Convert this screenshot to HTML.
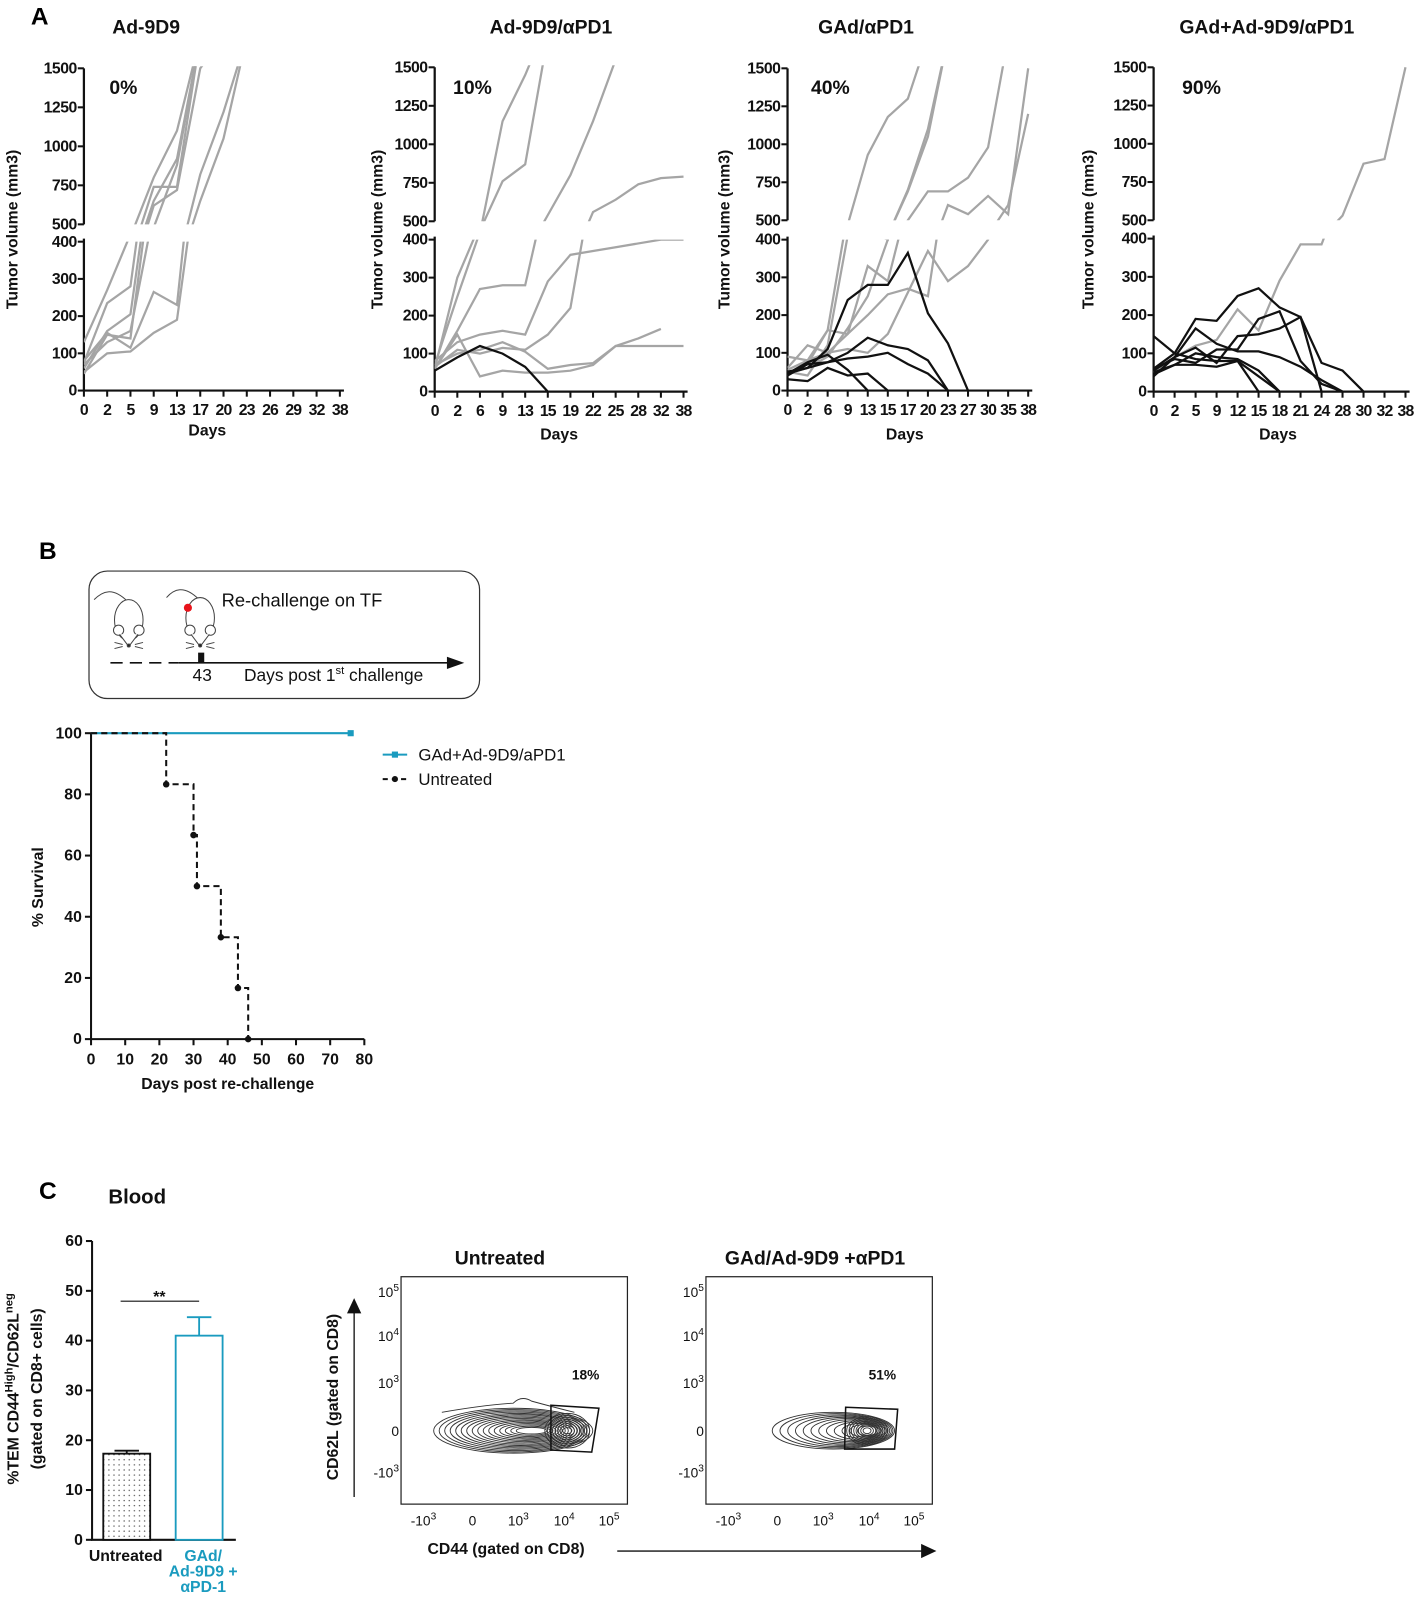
<!DOCTYPE html>
<html><head><meta charset="utf-8">
<style>
html,body{margin:0;padding:0;background:#fff;}
svg{display:block;font-family:"Liberation Sans",sans-serif;}
.tk{font-size:15.5px;font-weight:bold;fill:#111;}
.ttl{font-size:19px;font-weight:bold;fill:#111;}
</style></head>
<body>
<svg id="fig" width="1417" height="1601" viewBox="0 0 1389 1570" xmlns="http://www.w3.org/2000/svg">
<defs>
<pattern id="dots" width="5" height="5" patternUnits="userSpaceOnUse"><rect width="5" height="5" fill="#fff"/><circle cx="1.5" cy="1.5" r="0.7" fill="#555"/></pattern>
</defs>
<text x="30" y="24" font-size="24" font-weight="bold">A</text>
<text x="38" y="548" font-size="24" font-weight="bold">B</text>
<text x="38" y="1176" font-size="24" font-weight="bold">C</text>
<g id="panelA"></g>

<g>
<rect x="87" y="560" width="383" height="125" rx="18" fill="none" stroke="#333" stroke-width="1.2"/>
<g fill="#fff" stroke="#444" stroke-width="1">
<path d="M125 590 C110 575 100 580 92 588" fill="none"/>
<ellipse cx="126" cy="608" rx="14" ry="20"/>
<circle cx="116" cy="618" r="5"/><circle cx="136" cy="618" r="5"/>
<path d="M117 622 L126 634 L135 622" /><circle cx="126" cy="633" r="1.5" fill="#222"/>
<path d="M112 630 L120 632 M112 636 L120 634 M140 630 L132 632 M140 636 L132 634" fill="none"/>
</g>
<g fill="#fff" stroke="#444" stroke-width="1">
<path d="M195 588 C180 573 170 578 163 586" fill="none"/>
<ellipse cx="196" cy="606" rx="14" ry="20"/>
<circle cx="186" cy="618" r="5"/><circle cx="206" cy="618" r="5"/>
<path d="M187 622 L196 634 L205 622"/><circle cx="196" cy="633" r="1.5" fill="#222"/>
<path d="M182 630 L190 632 M182 636 L190 634 M210 630 L202 632 M210 636 L202 634" fill="none"/>
<circle cx="184" cy="596" r="4" fill="#e8141b" stroke="none"/>
</g>
<text x="217" y="595" font-size="18" fill="#111">Re-challenge on TF</text>
<line x1="108" y1="650" x2="175" y2="650" stroke="#111" stroke-width="1.6" stroke-dasharray="12,7"/>
<line x1="175" y1="650" x2="440" y2="650" stroke="#111" stroke-width="1.6"/>
<path d="M438 644 L455 650 L438 656 Z" fill="#111"/>
<rect x="194" y="640" width="6" height="10" fill="#111"/>
<text x="198" y="668" font-size="17" text-anchor="middle" fill="#111">43</text>
<text x="239" y="668" font-size="17" fill="#111">Days post 1<tspan font-size="11" dy="-7">st</tspan><tspan dy="7"> challenge</tspan></text>
</g>
<g id="panelB"></g>
<g id="panelC">
<text x="106" y="1180" font-size="20" font-weight="bold" fill="#111">Blood</text>
</g>
<g id="flow"></g>
</svg>
<script>
const NS='http://www.w3.org/2000/svg';
function mk(tag,attrs,parent){const e=document.createElementNS(NS,tag);for(const k in attrs)e.setAttribute(k,attrs[k]);parent.appendChild(e);return e;}

const catsA1=[0,2,5,9,13,17,20,23,26,29,32,38];
const grayA1=[
[130,270,420,800,1100,1700],
[75,235,280,740,740,1700],
[60,160,205,650,920,1700],
[45,150,140,620,720,1500,1700],
[80,155,115,265,230,820,1220,1700],
[50,100,105,155,190,650,1050,1700],
[70,130,160,480,880,1700]];
const blackA1=[];
const catsA2=[0,2,6,9,13,15,19,22,25,28,32,38];
const grayA2=[
[70,250,420,1150,1450,1800],
[60,300,440,760,870,1700],
[60,160,270,280,280,540,800,1150,1550],
[80,130,150,160,150,290,360,370,380,390,400,400],
[65,110,100,115,110,150,220,560,640,740,780,790],
[60,150,40,55,50,50,55,70,120,120,120,120],
[70,100,110,130,105,60,70,75,120,140,165]];
const blackA2=[[55,90,120,100,65,0]];
const catsA3=[0,2,6,9,13,15,17,20,23,27,30,35,38];
const grayA3=[
[90,80,160,470,930,1180,1300,1700],
[50,40,120,410,420,400,700,1100,1700],
[60,120,100,150,330,290,500,690,690,780,980,1700],
[40,70,160,150,200,255,270,250,600,540,660,540,1500],
[55,80,100,110,100,150,260,370,290,330,400,600,1200],
[45,60,90,165,250,400,690,1050,1700]];
const blackA3=[
[45,60,110,240,280,280,365,205,125,0],
[40,70,75,85,90,100,70,45,0],
[50,60,75,100,140,120,110,80,0],
[30,25,60,40,45,0],
[45,75,95,55,0]];
const catsA4=[0,2,5,9,12,15,18,21,24,28,30,32,38];
const grayA4=[[50,90,120,135,215,160,290,385,385,530,870,900,1500]];
const blackA4=[
[145,100,85,80,80,40,0],
[60,100,190,185,250,270,220,195,0],
[45,70,70,65,80,0],
[55,90,165,125,105,105,90,65,30,0],
[40,90,115,75,145,150,165,195,75,55,0],
[60,85,75,110,110,190,210,80,20,0],
[50,70,100,90,85,55,0]];
const titlesA=['Ad-9D9','Ad-9D9/αPD1','GAd/αPD1','GAd+Ad-9D9/αPD1'];
const pctA=['0%','10%','40%','90%'];
const lowTicks=[0,100,200,300,400];
const highTicks=[500,750,1000,1250,1500];

const layoutsA=[
{x0:82,x1:333,y0:383,y400:237,y500:220,y1500:67,tx:143,px:107,yt:10,dx:203,dy:427},
{x0:426,x1:670,y0:384,y400:235,y500:217,y1500:66,tx:540,px:444,yt:368,dx:548,dy:431},
{x0:772,x1:1008,y0:383,y400:235,y500:216,y1500:67,tx:849,px:795,yt:708,dx:887,dy:431},
{x0:1131,x1:1378,y0:384,y400:234,y500:216,y1500:66,tx:1242,px:1159,yt:1065,dx:1253,dy:431}];
const dataA=[[catsA1,grayA1,blackA1],[catsA2,grayA2,blackA2],[catsA3,grayA3,blackA3],[catsA4,grayA4,blackA4]];

const pA=document.getElementById('panelA');
const defs=document.querySelector('defs');
layoutsA.forEach((L,ci)=>{
  const [cats,gray,black]=dataA[ci];
  const g=mk('g',{},pA);
  
  
  const step=(L.x1-L.x0)/(cats.length-1);
  const xs=i=>L.x0+i*step;
  const yLo=v=>L.y0-v/400*(L.y0-L.y400);
  const yHi=v=>L.y500-(v-500)/1000*(L.y500-L.y1500);
  const c1=mk('clipPath',{id:'lo'+ci},defs);
  mk('rect',{x:L.x0,y:L.y400,width:L.x1-L.x0+10,height:L.y0-L.y400+2},c1);
  const c2=mk('clipPath',{id:'hi'+ci},defs);
  mk('rect',{x:L.x0,y:L.y1500-2,width:L.x1-L.x0+10,height:L.y500-L.y1500+2},c2);
  const t=mk('text',{x:L.tx,y:33,'text-anchor':'middle',class:'ttl'},g);t.textContent=titlesA[ci];
  
  
  const p=mk('text',{x:L.px,y:92,class:'ttl','font-size':'18'},g);p.textContent=pctA[ci];
  
  
  const yt=mk('text',{x:0,y:0,class:'tk','font-size':'18.5','text-anchor':'middle',transform:`translate(${L.yt+7},225) rotate(-90)`},g);yt.textContent='Tumor volume (mm3)';
  
  
  const dt=mk('text',{x:L.dx,y:L.dy,class:'tk','font-size':'18','text-anchor':'middle'},g);dt.textContent='Days';
  
  
  const ax=mk('path',{d:`M${L.x0} ${L.y0}V${L.y400-3}M${L.x0} ${L.y500}V${L.y1500}M${L.x0} ${L.y0}H${L.x1+4}`,stroke:'#111','stroke-width':2.2,fill:'none'},g);
  
  
  lowTicks.forEach(v=>{
    mk('line',{x1:L.x0-6,x2:L.x0,y1:yLo(v),y2:yLo(v),stroke:'#111','stroke-width':2},g);
    const tl=mk('text',{x:L.x0-7,y:yLo(v)+5,'text-anchor':'end',class:'tk','letter-spacing':'-0.5'},g);tl.textContent=v;
    
    
  });
  highTicks.forEach(v=>{
    mk('line',{x1:L.x0-6,x2:L.x0,y1:yHi(v),y2:yHi(v),stroke:'#111','stroke-width':2},g);
    const tl=mk('text',{x:L.x0-7,y:yHi(v)+5,'text-anchor':'end',class:'tk','letter-spacing':'-0.5'},g);tl.textContent=v;
    
    
  });
  cats.forEach((c,i)=>{
    mk('line',{x1:xs(i),x2:xs(i),y1:L.y0,y2:L.y0+6,stroke:'#111','stroke-width':2},g);
    const tl=mk('text',{x:xs(i),y:L.y0+24,'text-anchor':'middle',class:'tk','font-size':'16','letter-spacing':'-0.8'},g);tl.textContent=c;
    
    
  });
  const drawSeries=(arr,color,nm)=>{arr.forEach(s=>{
    const lo=s.map((v,i)=>xs(i)+','+yLo(v)).join(' ');
    const hi=s.map((v,i)=>xs(i)+','+yHi(v)).join(' ');
    const a=mk('polyline',{points:lo,fill:'none',stroke:color,'stroke-width':2.2,'clip-path':`url(#lo${ci})`},g);
    
    
    const b=mk('polyline',{points:hi,fill:'none',stroke:color,'stroke-width':2.2,'clip-path':`url(#hi${ci})`},g);
    
    
  });};
  drawSeries(gray,'#a5a5a5','mouse-line-progressor');
  drawSeries(black,'#111','mouse-line-responder');
});

const survXTicks=[0,10,20,30,40,50,60,70,80];
const survYTicks=[0,20,40,60,80,100];
const untreatedDays=[22,30,31,38,43,46];
const untreatedSurv=[83.3,66.7,50,33.3,16.7,0];
const treatedEnd=76;
const pB=document.getElementById('panelB');
const sx=d=>89+d/80*(357-89);
const sy=v=>1019-v/100*(1019-719);
(function(){
  const ax=mk('path',{d:`M89 ${sy(100)}V1019H${sx(80)}`,stroke:'#111','stroke-width':2,fill:'none'},pB);
  
  
  survYTicks.forEach(v=>{mk('line',{x1:83,x2:89,y1:sy(v),y2:sy(v),stroke:'#111','stroke-width':2},pB);
    const t=mk('text',{x:80,y:sy(v)+5,'text-anchor':'end',class:'tk','font-size':'14.5'},pB);t.textContent=v;
    
    });
  survXTicks.forEach(v=>{mk('line',{x1:sx(v),x2:sx(v),y1:1019,y2:1025,stroke:'#111','stroke-width':2},pB);
    const t=mk('text',{x:sx(v),y:1044,'text-anchor':'middle',class:'tk','font-size':'14.5'},pB);t.textContent=v;
    
    });
  const xt=mk('text',{x:223,y:1068,'text-anchor':'middle',class:'tk'},pB);xt.textContent='Days post re-challenge';
  
  
  const yt=mk('text',{x:0,y:0,'text-anchor':'middle',class:'tk','font-size':'16.5',transform:'translate(42,870) rotate(-90)'},pB);yt.textContent='% Survival';
  
  
  const tl=mk('line',{x1:sx(0),x2:sx(treatedEnd),y1:sy(100),y2:sy(100),stroke:'#1a9bbf','stroke-width':2},pB);
  
  
  const tm=mk('rect',{x:sx(treatedEnd)-3,y:sy(100)-3,width:6,height:6,fill:'#1a9bbf'},pB);
  
  
  let d=`M${sx(0)} ${sy(100)}`;
  untreatedDays.forEach((t,i)=>{d+=` H${sx(t)} V${sy(untreatedSurv[i])}`;});
  const ul=mk('path',{d:d,fill:'none',stroke:'#111','stroke-width':2,'stroke-dasharray':'6,4'},pB);
  
  
  untreatedDays.forEach((t,i)=>{const c=mk('circle',{cx:sx(t),cy:sy(untreatedSurv[i]),r:3.2,fill:'#111'},pB);
    
    });
  const lg=mk('g',{},pB);
  
  
  mk('line',{x1:375,x2:399,y1:740,y2:740,stroke:'#1a9bbf','stroke-width':2},lg);
  mk('rect',{x:384,y:737,width:6,height:6,fill:'#1a9bbf'},lg);
  const l1=mk('text',{x:410,y:746,'font-size':'16.5',fill:'#111'},lg);l1.textContent='GAd+Ad-9D9/aPD1';
  
  
  mk('line',{x1:375,x2:399,y1:764,y2:764,stroke:'#111','stroke-width':2,'stroke-dasharray':'5,4'},lg);
  mk('circle',{cx:387,cy:764,r:3,fill:'#111'},lg);
  const l2=mk('text',{x:410,y:770,'font-size':'16.5',fill:'#111'},lg);l2.textContent='Untreated';
  
  
})();

const barCats=['Untreated','GAd'];
const barMeans=[17.3,41];
const barErr=[0.6,3.7];
const barYTicks=[0,10,20,30,40,50,60];
const pC=document.getElementById('panelC');
const by=v=>1510-v/60*(1510-1217);
(function(){
  const ax=mk('path',{d:`M90 1217V1510H231`,stroke:'#111','stroke-width':2,fill:'none'},pC);
  
  
  barYTicks.forEach(v=>{mk('line',{x1:84,x2:90,y1:by(v),y2:by(v),stroke:'#111','stroke-width':2},pC);
    const t=mk('text',{x:81,y:by(v)+5,'text-anchor':'end',class:'tk','font-size':'14.5'},pC);t.textContent=v;
    
    });
  const bx=[101,172];
  barMeans.forEach((m,i)=>{
    const col=i===0?'#111':'#1a9bbf';
    const r=mk('rect',{x:bx[i],y:by(m),width:46,height:1510-by(m),fill:i===0?'url(#dots)':'#fff',stroke:col,'stroke-width':1.8},pC);
    
    
    const e=mk('path',{d:`M${bx[i]+23} ${by(m)}V${by(m+barErr[i])}M${bx[i]+11} ${by(m+barErr[i])}H${bx[i]+35}`,stroke:col,'stroke-width':1.8,fill:'none'},pC);
    
    
  });
  const s=mk('line',{x1:118,x2:195,y1:1276,y2:1276,stroke:'#111','stroke-width':1.2},pC);
  
  
  const st=mk('text',{x:156,y:1277,'text-anchor':'middle',class:'tk','font-size':'24'},pC);st.textContent='**';
  
  
  const l1=mk('text',{x:123,y:1531,'text-anchor':'middle',class:'tk','font-size':'14'},pC);l1.textContent='Untreated';
  
  
  ['GAd/','Ad-9D9 +','αPD-1'].forEach((s,i)=>{const t=mk('text',{x:199,y:1531+i*15,'text-anchor':'middle',class:'tk','font-size':'14',style:'fill:#1a9bbf'},pC);t.textContent=s;
    
    });
  const yt=mk('text',{x:0,y:0,'text-anchor':'middle',class:'tk','font-size':'16',transform:'translate(18,1362) rotate(-90)'},pC);
  yt.innerHTML='%TEM CD44<tspan font-size="11" dy="-6">High</tspan><tspan dy="6">/CD62L</tspan><tspan font-size="11" dy="-6">neg</tspan>';
  
  
  const yt2=mk('text',{x:0,y:0,'text-anchor':'middle',class:'tk','font-size':'16',transform:'translate(41,1362) rotate(-90)'},pC);yt2.textContent='(gated on CD8+ cells)';
  
  
})();

const flowTitles=['Untreated','GAd/Ad-9D9 +αPD1'];
const flowPct=['18%','51%'];
const flowYLabels=['10^5','10^4','10^3','0','-10^3'];
const flowXLabels=['-10^3','0','10^3','10^4','10^5'];
const fl=document.getElementById('flow');
function sup(el,s){const p=s.split('^');el.textContent=p[0];if(p[1]){const t=mk('tspan',{'font-size':'10',dy:'-6'},el);t.textContent=p[1];}}
[393,692].forEach((bx,k)=>{
  const g=mk('g',{},fl);
  
  
  const t=mk('text',{x:bx+97+(k?10:0),y:1240,'text-anchor':'middle',class:'ttl','font-size':'20'},g);t.textContent=flowTitles[k];
  
  
  const fr=mk('rect',{x:bx,y:1252,width:222,height:223,fill:'none',stroke:'#222','stroke-width':1.2},g);
  
  
  const yp=[1267,1310,1356,1403,1444];
  flowYLabels.forEach((s,i)=>{const e=mk('text',{x:bx-2,y:yp[i]+5,'text-anchor':'end','font-size':'13.5',fill:'#111'},g);sup(e,s);
    
    });
  const xp=[22,70,115,160,204];
  flowXLabels.forEach((s,i)=>{const e=mk('text',{x:bx+xp[i],y:1496,'text-anchor':'middle','font-size':'13.5',fill:'#111'},g);sup(e,s);
    
    });
  const cg=mk('g',{fill:'none',stroke:'#333','stroke-width':0.9},g);
  
  
  if(k===0){
    for(let j=0;j<16;j++){mk('ellipse',{cx:bx+110+j*1.2,cy:1403,rx:78-j*4.2,ry:22-j*1.25},cg);}
    for(let j=0;j<8;j++){mk('ellipse',{cx:bx+163,cy:1403,rx:22-j*2.5,ry:17-j*2},cg);}
    mk('path',{d:`M${bx+40} 1385 Q${bx+80} 1378 ${bx+110} 1376 Q${bx+118} 1368 ${bx+128} 1374 Q${bx+150} 1380 ${bx+170} 1385`},cg);
  }else{
    for(let j=0;j<12;j++){mk('ellipse',{cx:bx+125+j*3,cy:1403,rx:60-j*4.6,ry:18-j*1.2},cg);}
    for(let j=0;j<8;j++){mk('ellipse',{cx:bx+158,cy:1403,rx:20-j*2.3,ry:14-j*1.6},cg);}
  }
  const gate=k===0?`M540 1378 L587 1381 L580 1424 L540 1422Z`:`M829 1380 L880 1382 L877 1421 L828 1421Z`;
  const ga=mk('path',{d:gate,fill:'none',stroke:'#111','stroke-width':1.5},g);
  
  
  const pc=mk('text',{x:k===0?574:865,y:1353,'text-anchor':'middle','font-size':'13.5','font-weight':'bold',fill:'#111'},g);pc.textContent=flowPct[k];
  
  
});
(function(){
  const a=mk('path',{d:'M347 1468V1285',stroke:'#111','stroke-width':1.3},fl);
  
  
  const h=mk('path',{d:'M340 1288L347 1273L354 1288Z',fill:'#111'},fl);
  
  
  const yt=mk('text',{x:0,y:0,'text-anchor':'middle',class:'tk','font-size':'17.5',transform:'translate(331,1370) rotate(-90)'},fl);yt.textContent='CD62L (gated on CD8)';
  
  
  const xt=mk('text',{x:496,y:1524,'text-anchor':'middle',class:'tk','font-size':'17.5'},fl);xt.textContent='CD44 (gated on CD8)';
  
  
  const b=mk('path',{d:'M605 1521H905',stroke:'#111','stroke-width':1.3},fl);
  
  
  const bh=mk('path',{d:'M903 1514L918 1521L903 1528Z',fill:'#111'},fl);
  
  
})();
</script>
</body></html>
